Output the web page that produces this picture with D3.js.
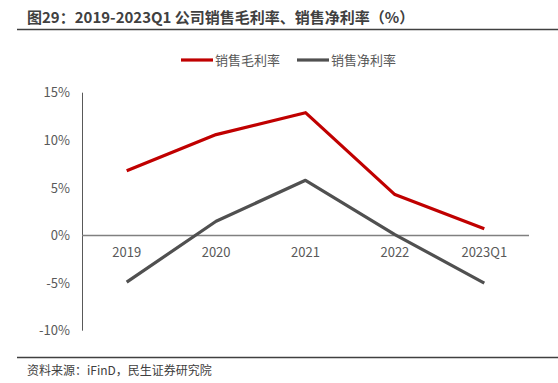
<!DOCTYPE html>
<html><head><meta charset="utf-8">
<script src="https://cdn.jsdelivr.net/npm/d3@7"></script>
<style>body{margin:0;background:#fff;}svg{display:block;font-family:"Noto Sans CJK SC","Noto Sans",sans-serif;}</style>
</head><body>
<script>
const categories = ["2019","2020","2021","2022","2023Q1"];
const grossMargin = [6.8, 10.6, 12.9, 4.3, 0.7];
const netMargin = [-4.9, 1.5, 5.8, 0.1, -5.0];
const yTicks = [-10, -5, 0, 5, 10, 15];
const seriesNames = ["销售毛利率", "销售净利率"];
const colors = ["#C00000", "#505050"];

const W = 558, H = 383;
const svg = d3.select("body").append("svg").attr("width", W).attr("height", H);

svg.append("text").attr("x", 27).attr("y", 23).attr("font-size", 15).attr("font-weight", "bold")
  .attr("fill", "#404040").text("图29：2019-2023Q1 公司销售毛利率、销售净利率（%）");
svg.append("line").attr("x1", 17).attr("x2", 558).attr("y1", 29.5).attr("y2", 29.5)
  .attr("stroke", "#404040").attr("stroke-width", 1.5);

const x = d3.scaleBand().domain(categories).range([82, 529]);
const y = d3.scaleLinear().domain([-10, 15]).range([330.7, 92.7]);

// y axis line
svg.append("line").attr("x1", 82.5).attr("x2", 82.5).attr("y1", y(15)).attr("y2", y(-10))
  .attr("stroke", "#595959").attr("stroke-width", 1);
// y tick labels
const yAxis = d3.axisLeft(y).tickValues(yTicks).tickFormat(d => d + "%").tickSize(0).tickPadding(12);
const ya = svg.append("g").attr("transform", "translate(82,0)").call(yAxis);
ya.select(".domain").remove();
ya.selectAll("text").attr("font-size", 13).attr("fill", "#595959").attr("font-family", '"Noto Sans CJK SC",sans-serif');

// zero line
svg.append("line").attr("x1", 82).attr("x2", 529).attr("y1", y(0)).attr("y2", y(0))
  .attr("stroke", "#808080").attr("stroke-width", 1.5);

// x labels
const xAxis = d3.axisBottom(x).tickSize(0).tickPadding(12);
const xa = svg.append("g").attr("transform", `translate(0,${y(0)})`).call(xAxis);
xa.select(".domain").remove();
xa.selectAll("text").attr("font-size", 13).attr("fill", "#595959").attr("font-family", '"Noto Sans CJK SC",sans-serif');

const line = d3.line().x((d, i) => x(categories[i]) + x.bandwidth() / 2).y(d => y(d));
[grossMargin, netMargin].forEach((s, k) => {
  svg.append("path").datum(s).attr("d", line).attr("fill", "none")
    .attr("stroke", colors[k]).attr("stroke-width", 3.2).attr("stroke-linejoin", "round");
});

// legend
const legX = [181, 297];
seriesNames.forEach((n, k) => {
  svg.append("line").attr("x1", legX[k]).attr("x2", legX[k] + 32).attr("y1", 60).attr("y2", 60)
    .attr("stroke", colors[k]).attr("stroke-width", 3.2);
  svg.append("text").attr("x", legX[k] + 34).attr("y", 65).attr("font-size", 13)
    .attr("fill", "#595959").text(n);
});

// footer
svg.append("line").attr("x1", 17).attr("x2", 558).attr("y1", 357.5).attr("y2", 357.5)
  .attr("stroke", "#404040").attr("stroke-width", 1.5);
svg.append("text").attr("x", 27).attr("y", 375).attr("font-size", 12).attr("fill", "#404040")
  .text("资料来源：iFinD，民生证券研究院");
</script>
</body></html>
